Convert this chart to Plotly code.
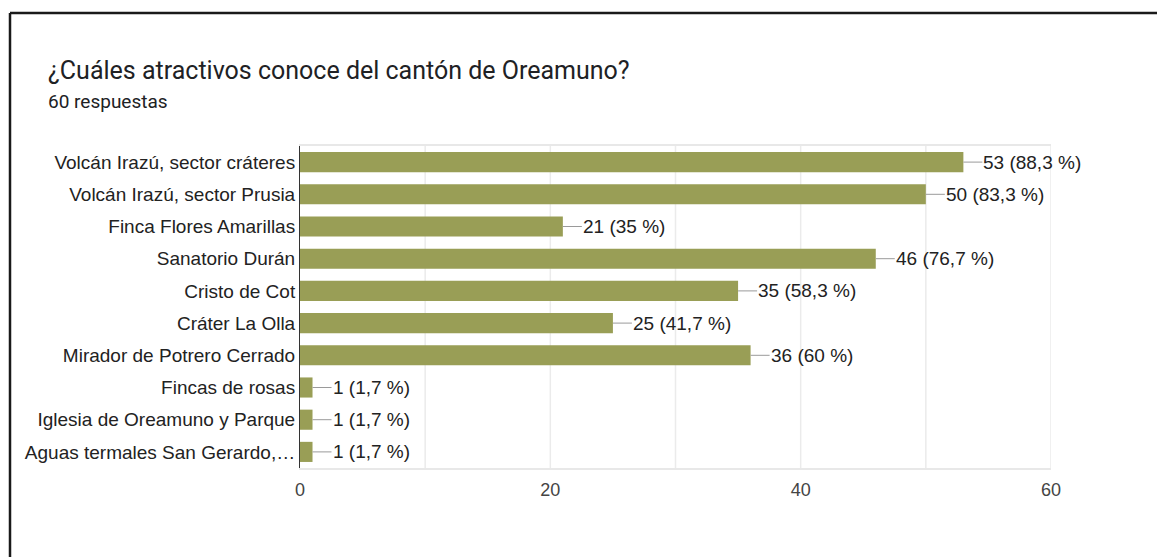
import plotly.graph_objects as go

categories = [
    "Volcán Irazú, sector cráteres",
    "Volcán Irazú, sector Prusia",
    "Finca Flores Amarillas",
    "Sanatorio Durán",
    "Cristo de Cot",
    "Cráter La Olla",
    "Mirador de Potrero Cerrado",
    "Fincas de rosas",
    "Iglesia de Oreamuno y Parque",
    "Aguas termales San Gerardo,…",
]
counts = [53, 50, 21, 46, 35, 25, 36, 1, 1, 1]
percents = ["88,3", "83,3", "35", "76,7", "58,3", "41,7", "60", "1,7", "1,7", "1,7"]
total = 60

W, H = 1157, 557
L, R, T, B = 300, 1051, 146, 468  # plot area in pixels


def px_x(p):
    return (p - L) / (R - L)


def px_y(p):
    return (B - p) / (B - T)


fig = go.Figure(go.Bar(
    x=counts, y=categories, orientation="h",
    marker=dict(color="#999e56", line=dict(width=0)),
    hoverinfo="x+y",
))

for c, n, p in zip(categories, counts, percents):
    fig.add_annotation(
        x=n, y=c, xref="x", yref="y",
        text=f"{n} ({p} %)",
        showarrow=True, arrowhead=0, arrowwidth=1, arrowcolor="#9a9a9a",
        ax=19, ay=0, xanchor="left", standoff=0, borderpad=0,
        font=dict(family="Liberation Sans, Arial", size=19, color="#222"),
    )

# title and subtitle
fig.add_annotation(
    text="¿Cuáles atractivos conoce del cantón de Oreamuno?",
    xref="paper", yref="paper", x=px_x(46), y=px_y(70),
    xanchor="left", yanchor="middle", showarrow=False,
    font=dict(family="Roboto", size=25, color="#202124"),
)
fig.add_annotation(
    text="60 respuestas",
    xref="paper", yref="paper", x=px_x(46), y=px_y(101),
    xanchor="left", yanchor="middle", showarrow=False,
    font=dict(family="Roboto", size=19, color="#202124"),
)

# outer black frame of the screenshot (only top and left edges are in view)
frame = dict(color="#1a1a1a", width=2.5)
fig.add_shape(type="line", xref="paper", yref="paper",
              x0=px_x(10), y0=px_y(13), x1=px_x(1170), y1=px_y(13), line=frame)
fig.add_shape(type="line", xref="paper", yref="paper",
              x0=px_x(10), y0=px_y(13), x1=px_x(10), y1=px_y(570), line=frame)

fig.update_layout(
    width=W, height=H,
    margin=dict(l=L, r=W - R, t=T, b=H - B, pad=0),
    paper_bgcolor="white", plot_bgcolor="white",
    bargap=0.375,
    showlegend=False,
    xaxis=dict(
        range=[0, total], tickvals=[0, 20, 40, 60],
        showgrid=False, zeroline=False,
        showline=True, mirror=True, linecolor="#e8e8e8", linewidth=2,
        tickfont=dict(family="Liberation Sans, Arial", size=18, color="#444"),
        ticks="", ticklabelstandoff=4,
    ),
    yaxis=dict(
        autorange="reversed", showgrid=False, zeroline=False,
        showline=True, linecolor="#333", linewidth=1,
        tickfont=dict(family="Liberation Sans, Arial", size=19, color="#222"),
        ticks="", ticklabelstandoff=0,
    ),
)

# vertical grid lines every 10
for v in range(10, 61, 10):
    fig.add_shape(type="line", xref="x", yref="paper", x0=v, x1=v, y0=0, y1=1,
                  line=dict(color="#ebebeb", width=1.5), layer="below")

fig.write_html("out.html", config={"displayModeBar": False},
               post_script="document.body.style.margin='0';")
